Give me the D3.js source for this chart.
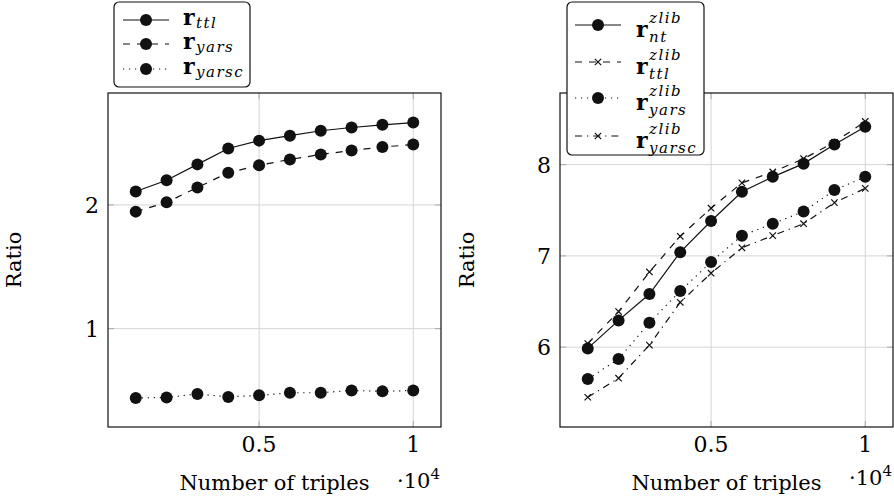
<!DOCTYPE html>
<html>
<head>
<meta charset="utf-8">
<script src="https://cdn.jsdelivr.net/npm/d3@7"></script>
<style>
  body { margin: 0; background: #fff; }
</style>
</head>
<body>
<div id="chart"></div>
<script>
const width = 894;
const height = 502;
const serif = "'DejaVu Serif', 'Liberation Serif', serif";

// number of triples
const triples = [1000, 2000, 3000, 4000, 5000, 6000, 7000, 8000, 9000, 10000];

// left panel
const rTtl   = [2.109, 2.200, 2.328, 2.456, 2.520, 2.560, 2.600, 2.626, 2.648, 2.666];
const rYars  = [1.946, 2.021, 2.141, 2.261, 2.320, 2.368, 2.408, 2.440, 2.469, 2.488];
const rYarsc = [0.440, 0.443, 0.472, 0.448, 0.461, 0.482, 0.482, 0.501, 0.493, 0.501];

// right panel (zlib)
const zNt    = [5.986, 6.293, 6.582, 7.041, 7.382, 7.703, 7.866, 8.011, 8.220, 8.415];
const zTtl   = [6.040, 6.390, 6.824, 7.215, 7.523, 7.800, 7.920, 8.065, 8.245, 8.473];
const zYars  = [5.650, 5.870, 6.268, 6.615, 6.933, 7.222, 7.353, 7.486, 7.721, 7.866];
const zYarsc = [5.451, 5.660, 6.022, 6.492, 6.810, 7.089, 7.222, 7.353, 7.584, 7.740];

const xTicks = [5000, 10000];
const xTickLabels = ["0.5", "1"];
const leftYTicks = [1, 2];
const rightYTicks = [6, 7, 8];

const svg = d3.select("#chart")
  .append("svg")
  .attr("width", width)
  .attr("height", height)
  .attr("font-family", serif)
  .style("font-family", serif);

const dashes = {
  solid: null,
  dashed: "7,7",
  dotted: "1.2,4.8",
  dashdot: "7,5,1.2,5"
};

function drawMarker(g, type, x, y) {
  if (type === "circle") {
    g.append("circle").attr("cx", x).attr("cy", y).attr("r", 6).attr("fill", "#111");
  } else {
    const s = 3.2;
    g.append("path")
      .attr("d", `M${x - s},${y - s}L${x + s},${y + s}M${x - s},${y + s}L${x + s},${y - s}`)
      .attr("stroke", "#111").attr("stroke-width", 1.2).attr("fill", "none");
  }
}

function panel(opts) {
  const x = d3.scaleLinear().domain([100, 10900]).range([opts.left, opts.right]);
  const y = d3.scaleLinear().domain(opts.yDomain).range([427, 93]);
  const g = svg.append("g");

  // grid
  g.append("g").selectAll("line").data(xTicks).join("line")
    .attr("x1", d => x(d)).attr("x2", d => x(d))
    .attr("y1", y.range()[1]).attr("y2", y.range()[0])
    .attr("stroke", "#d4d4d4").attr("stroke-width", 1);
  g.append("g").selectAll("line").data(opts.yTicks).join("line")
    .attr("x1", opts.left).attr("x2", opts.right)
    .attr("y1", d => y(d)).attr("y2", d => y(d))
    .attr("stroke", "#d4d4d4").attr("stroke-width", 1);

  // inner tick marks
  const tk = 6;
  g.append("g").selectAll("path").data(xTicks).join("path")
    .attr("d", d => `M${x(d)},427v${-tk}M${x(d)},93v${tk}`)
    .attr("stroke", "#aaa").attr("stroke-width", 1);
  g.append("g").selectAll("path").data(opts.yTicks).join("path")
    .attr("d", d => `M${opts.left},${y(d)}h${tk}M${opts.right},${y(d)}h${-tk}`)
    .attr("stroke", "#aaa").attr("stroke-width", 1);

  // series
  opts.series.forEach(s => {
    const pts = triples.map((t, i) => [x(t), y(s.values[i])]);
    g.append("path")
      .attr("d", d3.line()(pts))
      .attr("fill", "none")
      .attr("stroke", "#111")
      .attr("stroke-width", 1.2)
      .attr("stroke-dasharray", dashes[s.dash]);
    const mg = g.append("g");
    pts.forEach(p => drawMarker(mg, s.marker, p[0], p[1]));
  });

  // box
  g.append("rect")
    .attr("x", opts.left).attr("y", 93)
    .attr("width", opts.right - opts.left).attr("height", 334)
    .attr("fill", "none").attr("stroke", "#111").attr("stroke-width", 1.2);

  // tick labels
  g.append("g").selectAll("text").data(xTicks).join("text")
    .attr("x", d => x(d)).attr("y", 452)
    .attr("text-anchor", "middle").style("font-size", "22px")
    .text((d, i) => xTickLabels[i]);
  g.append("g").selectAll("text").data(opts.yTicks).join("text")
    .attr("x", opts.left - 9).attr("y", d => y(d) + 8)
    .attr("text-anchor", "end").style("font-size", "22px")
    .text(d => d);

  // axis labels
  g.append("text")
    .attr("x", (opts.left + opts.right) / 2).attr("y", 490)
    .attr("text-anchor", "middle").style("font-size", "21px")
    .text("Number of triples");
  const sci = g.append("text")
    .attr("x", opts.sciX).attr("y", opts.sciY)
    .style("font-size", "21px");
  sci.append("tspan").text("·10");
  sci.append("tspan").attr("dy", -9).style("font-size", "15px").text("4");
  g.append("text")
    .attr("transform", `translate(${opts.ratioX},260) rotate(-90)`)
    .attr("text-anchor", "middle").style("font-size", "21px")
    .text("Ratio");

  // legend
  const L = opts.legend;
  const lg = svg.append("g");
  lg.append("rect")
    .attr("x", L.x0).attr("y", L.y0)
    .attr("width", L.x1 - L.x0).attr("height", L.y1 - L.y0)
    .attr("rx", 5).attr("ry", 5)
    .attr("fill", "#fff").attr("stroke", "#111").attr("stroke-width", 1.2);
  opts.series.forEach((s, i) => {
    const cy = L.rows[i];
    lg.append("line")
      .attr("x1", L.lineX0).attr("x2", L.lineX1)
      .attr("y1", cy).attr("y2", cy)
      .attr("stroke", "#111").attr("stroke-width", 1.2)
      .attr("stroke-dasharray", dashes[s.dash]);
    drawMarker(lg, s.marker, (L.lineX0 + L.lineX1) / 2, cy);
    const base = cy + L.baseOff;
    // one text element: bold r with stacked super/subscript
    const t = lg.append("text").attr("x", L.textX).attr("y", base);
    t.append("tspan")
      .style("font-size", "22px").style("font-weight", "bold")
      .text("r");
    if (s.sup) {
      t.append("tspan")
        .attr("x", L.textX + 13).attr("dy", -14)
        .style("font-size", "15px").style("font-style", "italic")
        .style("letter-spacing", "1.5px")
        .text(s.sup);
      t.append("tspan")
        .attr("x", L.textX + 13).attr("dy", 19)
        .style("font-size", "15px").style("font-style", "italic")
        .style("letter-spacing", "1.5px")
        .text(s.sub);
    } else {
      t.append("tspan")
        .attr("x", L.textX + 13).attr("dy", 3)
        .style("font-size", "15px").style("font-style", "italic")
        .style("letter-spacing", "1.5px")
        .text(s.sub);
    }
  });
}

panel({
  left: 108, right: 441,
  yDomain: [0.205, 2.905],
  yTicks: leftYTicks,
  sciX: 397, sciY: 488,
  ratioX: 21,
  series: [
    { values: rTtl, dash: "solid", marker: "circle", sub: "ttl" },
    { values: rYars, dash: "dashed", marker: "circle", sub: "yars" },
    { values: rYarsc, dash: "dotted", marker: "circle", sub: "yarsc" }
  ],
  legend: {
    x0: 114, x1: 250, y0: 2, y1: 87,
    rows: [20, 44, 69], baseOff: 5,
    lineX0: 123, lineX1: 169, textX: 183
  }
});

panel({
  left: 560, right: 893,
  yDomain: [5.125, 8.785],
  yTicks: rightYTicks,
  sciX: 849, sciY: 485,
  ratioX: 474,
  series: [
    { values: zNt, dash: "solid", marker: "circle", sup: "zlib", sub: "nt" },
    { values: zTtl, dash: "dashed", marker: "cross", sup: "zlib", sub: "ttl" },
    { values: zYars, dash: "dotted", marker: "circle", sup: "zlib", sub: "yars" },
    { values: zYarsc, dash: "dashdot", marker: "cross", sup: "zlib", sub: "yarsc" }
  ],
  legend: {
    x0: 567, x1: 704, y0: 2, y1: 155,
    rows: [25, 62, 98, 136], baseOff: 12,
    lineX0: 575, lineX1: 621, textX: 636
  }
});
</script>
</body>
</html>
